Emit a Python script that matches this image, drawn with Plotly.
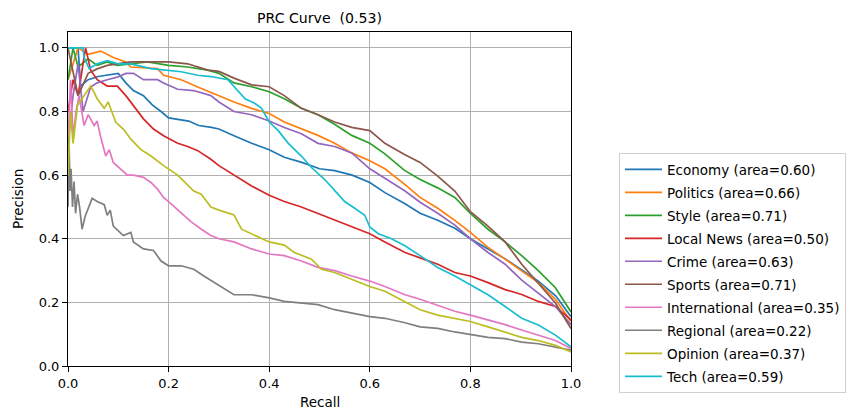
import plotly.graph_objects as go

title_text = "PRC Curve\u00a0 (0.53)"
x_label = "Recall"
y_label = "Precision"
tick_vals = [0.0, 0.2, 0.4, 0.6, 0.8, 1.0]
tick_text = ["0.0", "0.2", "0.4", "0.6", "0.8", "1.0"]

names = ["Economy", "Politics", "Style", "Local News", "Crime", "Sports",
         "International", "Regional", "Opinion", "Tech"]
areas = [0.60, 0.66, 0.71, 0.50, 0.63, 0.71, 0.35, 0.22, 0.37, 0.59]
colors = ["#1f77b4", "#ff7f0e", "#2ca02c", "#d62728", "#9467bd",
          "#8c564b", "#e377c2", "#7f7f7f", "#bcbd22", "#17becf"]

economy_r = [0, 0.02, 0.025, 0.04, 0.06, 0.10, 0.115, 0.13, 0.15, 0.168, 0.185, 0.20, 0.24,
             0.26, 0.285, 0.30, 0.33, 0.365, 0.40, 0.43, 0.465, 0.50, 0.53, 0.565, 0.60,
             0.63, 0.67, 0.70, 0.735, 0.77, 0.80, 0.835, 0.87, 0.90, 0.935, 0.97, 1.0]
economy_p = [1.0, 1.0, 0.88, 0.90, 0.91, 0.92, 0.89, 0.866, 0.85, 0.82, 0.80, 0.78, 0.77,
             0.756, 0.75, 0.745, 0.724, 0.70, 0.68, 0.656, 0.64, 0.62, 0.614, 0.60, 0.577,
             0.545, 0.51, 0.48, 0.458, 0.432, 0.40, 0.368, 0.336, 0.304, 0.267, 0.22, 0.155]

politics_r = [0, 0.02, 0.04, 0.065, 0.09, 0.115, 0.125, 0.178, 0.19, 0.225, 0.258, 0.29,
              0.33, 0.365, 0.40, 0.43, 0.464, 0.497, 0.53, 0.564, 0.60, 0.63, 0.67, 0.70,
              0.735, 0.769, 0.80, 0.835, 0.869, 0.902, 0.935, 0.969, 1.0]
politics_p = [0.9, 1.0, 0.98, 0.99, 0.97, 0.956, 0.94, 0.935, 0.914, 0.90, 0.877, 0.856,
              0.83, 0.81, 0.794, 0.767, 0.746, 0.725, 0.70, 0.67, 0.645, 0.62, 0.57, 0.53,
              0.496, 0.458, 0.42, 0.373, 0.336, 0.30, 0.262, 0.21, 0.14]

style_r = [0, 0.01, 0.02, 0.04, 0.058, 0.078, 0.098, 0.125, 0.158, 0.2, 0.238, 0.278, 0.30,
           0.33, 0.365, 0.40, 0.43, 0.464, 0.497, 0.53, 0.564, 0.60, 0.63, 0.669, 0.70,
           0.735, 0.769, 0.80, 0.835, 0.869, 0.902, 0.935, 0.969, 1.0]
style_p = [0.9, 1.0, 0.94, 0.966, 0.945, 0.956, 0.945, 0.95, 0.956, 0.945, 0.94, 0.93, 0.92,
           0.89, 0.878, 0.862, 0.84, 0.81, 0.79, 0.76, 0.725, 0.70, 0.667, 0.615, 0.586,
           0.56, 0.53, 0.48, 0.43, 0.39, 0.347, 0.30, 0.246, 0.17]

local_r = [0, 0.01, 0.02, 0.03, 0.035, 0.045, 0.058, 0.078, 0.098, 0.115, 0.13, 0.15, 0.17,
           0.19, 0.218, 0.238, 0.258, 0.284, 0.30, 0.33, 0.365, 0.40, 0.43, 0.464, 0.497,
           0.53, 0.564, 0.60, 0.63, 0.67, 0.70, 0.735, 0.769, 0.80, 0.835, 0.869, 0.902,
           0.935, 0.969, 1.0]
local_p = [0.8, 0.9, 0.85, 0.95, 1.0, 0.93, 0.90, 0.88, 0.88, 0.85, 0.82, 0.777, 0.745,
           0.724, 0.70, 0.69, 0.677, 0.65, 0.63, 0.60, 0.566, 0.537, 0.517, 0.50, 0.48,
           0.458, 0.437, 0.416, 0.39, 0.357, 0.34, 0.32, 0.294, 0.283, 0.262, 0.24, 0.225,
           0.203, 0.187, 0.145]

crime_r = [0, 0.01, 0.02, 0.03, 0.045, 0.058, 0.078, 0.098, 0.115, 0.13, 0.15, 0.178, 0.19,
           0.218, 0.25, 0.284, 0.30, 0.33, 0.365, 0.40, 0.43, 0.464, 0.497, 0.53, 0.564,
           0.60, 0.63, 0.67, 0.70, 0.735, 0.769, 0.80, 0.835, 0.869, 0.902, 0.935, 0.969, 1.0]
crime_p = [0.7, 0.85, 0.95, 0.80, 0.877, 0.89, 0.90, 0.908, 0.92, 0.92, 0.90, 0.90, 0.89,
           0.87, 0.866, 0.85, 0.83, 0.80, 0.79, 0.77, 0.75, 0.73, 0.70, 0.69, 0.67,
           0.62, 0.59, 0.55, 0.515, 0.48, 0.443, 0.40, 0.357, 0.32, 0.27, 0.23, 0.187, 0.13]

sports_r = [0, 0.02, 0.04, 0.058, 0.078, 0.098, 0.125, 0.158, 0.2, 0.238, 0.278, 0.30, 0.33,
            0.365, 0.40, 0.43, 0.464, 0.497, 0.53, 0.564, 0.60, 0.63, 0.669, 0.70, 0.735,
            0.769, 0.80, 0.835, 0.869, 0.902, 0.935, 0.969, 1.0]
sports_p = [1.0, 0.85, 0.92, 0.934, 0.945, 0.95, 0.956, 0.956, 0.956, 0.95, 0.93, 0.926, 0.905,
            0.884, 0.878, 0.85, 0.81, 0.79, 0.767, 0.75, 0.74, 0.70, 0.665, 0.64, 0.597,
            0.55, 0.485, 0.44, 0.39, 0.32, 0.26, 0.198, 0.118]

intl_r = [0, 0.005, 0.01, 0.016, 0.022, 0.032, 0.04, 0.052, 0.058, 0.065, 0.075, 0.082, 0.09,
          0.105, 0.118, 0.13, 0.15, 0.165, 0.178, 0.19, 0.2, 0.23, 0.245, 0.265, 0.284, 0.30,
          0.33, 0.365, 0.40, 0.43, 0.464, 0.497, 0.53, 0.564, 0.60, 0.63, 0.67, 0.70, 0.735,
          0.769, 0.80, 0.835, 0.869, 0.902, 0.935, 0.969, 1.0]
intl_p = [0.7, 0.9, 0.72, 0.80, 0.85, 0.756, 0.79, 0.756, 0.77, 0.72, 0.66, 0.68, 0.64,
          0.62, 0.60, 0.60, 0.593, 0.577, 0.556, 0.53, 0.517, 0.474, 0.453, 0.43, 0.41, 0.40,
          0.39, 0.368, 0.352, 0.347, 0.33, 0.31, 0.30, 0.283, 0.267, 0.25, 0.224, 0.21, 0.19,
          0.172, 0.16, 0.145, 0.13, 0.113, 0.097, 0.08, 0.055]

regional_r = [0, 0.002, 0.004, 0.006, 0.009, 0.012, 0.015, 0.019, 0.023, 0.028, 0.034, 0.04,
              0.048, 0.058, 0.072, 0.078, 0.084, 0.09, 0.11, 0.125, 0.13, 0.15, 0.17, 0.185,
              0.2, 0.225, 0.25, 0.27, 0.298, 0.33, 0.365, 0.40, 0.43, 0.464, 0.497, 0.53,
              0.564, 0.60, 0.63, 0.67, 0.70, 0.735, 0.769, 0.80, 0.835, 0.869, 0.902, 0.935,
              0.969, 1.0]
regional_p = [0.5, 0.72, 0.55, 0.62, 0.5, 0.58, 0.48, 0.54, 0.5, 0.43, 0.47, 0.495,
              0.527, 0.517, 0.507, 0.474, 0.49, 0.44, 0.41, 0.42, 0.39, 0.368, 0.363, 0.33,
              0.315, 0.315, 0.304, 0.283, 0.256, 0.224, 0.224, 0.214, 0.203, 0.198, 0.193, 0.177,
              0.166, 0.155, 0.15, 0.136, 0.123, 0.118, 0.107, 0.10, 0.09, 0.086, 0.075, 0.07,
              0.06, 0.05]

opinion_r = [0, 0.005, 0.01, 0.019, 0.032, 0.045, 0.052, 0.058, 0.072, 0.08, 0.095, 0.11,
             0.125, 0.145, 0.165, 0.19, 0.218, 0.25, 0.265, 0.284, 0.30, 0.33, 0.345, 0.365,
             0.40, 0.43, 0.45, 0.484, 0.504, 0.53, 0.564, 0.60, 0.63, 0.67, 0.70, 0.735,
             0.769, 0.80, 0.835, 0.869, 0.902, 0.935, 0.969, 1.0]
opinion_p = [0.6, 0.8, 0.7, 0.82, 0.85, 0.88, 0.86, 0.84, 0.81, 0.83, 0.766, 0.745,
             0.713, 0.68, 0.66, 0.63, 0.60, 0.55, 0.54, 0.50, 0.49, 0.475, 0.43, 0.416,
             0.39, 0.38, 0.357, 0.336, 0.304, 0.294, 0.272, 0.25, 0.235, 0.203, 0.177, 0.16,
             0.15, 0.14, 0.123, 0.107, 0.09, 0.08, 0.065, 0.044]

tech_r = [0, 0.03, 0.032, 0.042, 0.058, 0.078, 0.1, 0.125, 0.165, 0.19, 0.225, 0.258, 0.284,
          0.318, 0.33, 0.352, 0.372, 0.385, 0.40, 0.418, 0.438, 0.464, 0.484, 0.51, 0.534,
          0.55, 0.57, 0.59, 0.6, 0.617, 0.643, 0.669, 0.70, 0.735, 0.769, 0.80, 0.835, 0.869,
          0.902, 0.935, 0.969, 1.0]
tech_p = [1.0, 1.0, 0.97, 0.935, 0.95, 0.96, 0.95, 0.95, 0.935, 0.93, 0.925, 0.914, 0.91,
          0.90, 0.88, 0.84, 0.825, 0.81, 0.767, 0.74, 0.70, 0.66, 0.624, 0.587, 0.545,
          0.517, 0.496, 0.474, 0.437, 0.416, 0.40, 0.379, 0.347, 0.31, 0.283, 0.256, 0.224,
          0.187, 0.15, 0.129, 0.097, 0.06]

recalls = [economy_r, politics_r, style_r, local_r, crime_r, sports_r,
           intl_r, regional_r, opinion_r, tech_r]
precisions = [economy_p, politics_p, style_p, local_p, crime_p, sports_p,
              intl_p, regional_p, opinion_p, tech_p]

FONT = "DejaVu Sans"
# the page body has an 8px margin; positions below are shifted to compensate
OFF = 8

fig = go.Figure()
for i, name in enumerate(names):
    fig.add_trace(go.Scatter(
        x=recalls[i], y=precisions[i], mode="lines",
        name=f"{name} (area={areas[i]:.2f})",
        legendgroup=f"g{i}",
        line=dict(color=colors[i], width=1.7),
    ))

axis_common = dict(
    showline=True, mirror=True, linecolor="black", linewidth=1,
    ticks="outside", ticklen=5, tickcolor="black", tickwidth=1,
    showgrid=True, gridcolor="#b0b0b0", gridwidth=1, zeroline=False,
    tickvals=tick_vals, ticktext=tick_text,
    tickfont=dict(family=FONT, size=13, color="black"),
)

W, H = 857, 415
fig.update_layout(
    width=W, height=H,
    margin=dict(l=68 - OFF, r=W - 571 + OFF, t=32 - OFF, b=H - 366 + OFF),
    paper_bgcolor="white", plot_bgcolor="white",
    font=dict(family=FONT, color="black"),
    title=dict(text=title_text, x=0.5, xref="paper", xanchor="center",
               y=1 - (18 - OFF) / H, yref="container", yanchor="middle",
               font=dict(family=FONT, size=14.1, color="black")),
    xaxis=dict(range=[0, 1], **axis_common),
    yaxis=dict(range=[0, 1.05], **axis_common),
    showlegend=True,
    legend=dict(
        xref="container", yref="container",
        x=(619 - OFF) / W, y=1 - (153 - OFF) / H, xanchor="left", yanchor="top",
        bgcolor="white", bordercolor="#d0d0d0", borderwidth=1,
        font=dict(family=FONT, size=13.5, color="black"),
        traceorder="grouped", tracegroupgap=2.45, itemwidth=37,
    ),
    annotations=[
        dict(text=x_label, x=0.5, y=(366 - 402) / 334, xref="paper", yref="paper",
             xanchor="center", yanchor="middle", showarrow=False,
             font=dict(family=FONT, size=13.5, color="black")),
        dict(text=y_label, x=(18 - 68) / 503, y=0.5, xref="paper", yref="paper",
             xanchor="center", yanchor="middle", showarrow=False, textangle=-90,
             font=dict(family=FONT, size=13.5, color="black")),
    ],
)
try:
    fig.update_layout(legend_maxheight=300)
except Exception:
    pass

fig.write_html("out.html")
